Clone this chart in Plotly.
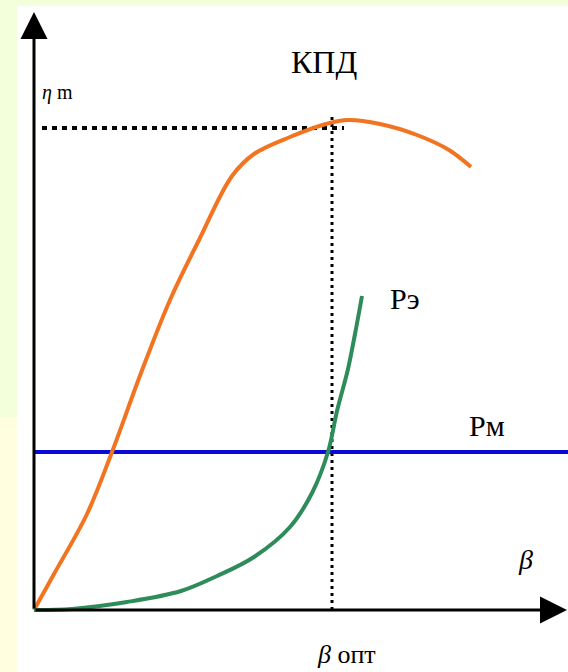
import plotly.graph_objects as go

# efficiency curve (КПД), arbitrary units
eta_x = [0, 2.0, 5.3, 7.8, 10.7, 13.6, 16.5, 19.8, 22.0, 25.6, 29.2, 31.4, 34.6, 38.3, 41.5, 43.7]
eta_y = [0, 3.6, 9.6, 15.8, 23.7, 31.0, 37.0, 43.4, 45.6, 47.3, 48.6, 49.0, 48.6, 47.5, 46.0, 44.3]

# electrical losses Pэ
pe_x = [0, 3.8, 9.3, 14.7, 18.3, 22.0, 25.6, 27.8, 29.4, 30.3, 31.4, 32.1, 32.8]
pe_y = [0, 0.1, 0.8, 1.9, 3.4, 5.3, 8.3, 11.7, 15.8, 19.9, 24.1, 27.6, 31.4]

# magnetic losses Pм (constant)
pm_x = [0, 53.4]
pm_y = [15.8, 15.8]

beta_opt = 29.8
eta_max = 48.2

X_RANGE = [-3.4, 53.4]
Y_RANGE = [-6.2, 61.0]

W, H = 568, 672
SERIF = "Liberation Serif, Times New Roman, serif"


def main():
    fig = go.Figure()

    # background panels (paper coords)
    green_bg = "#f3fedb"
    yellow_bg = "#ffffe0"
    fig.add_shape(type="rect", xref="paper", yref="paper", x0=0, x1=1, y0=0, y1=1,
                  fillcolor=green_bg, line_width=0, layer="below")
    fig.add_shape(type="rect", xref="paper", yref="paper", x0=0, x1=17 / W, y0=0, y1=1 - 418 / H,
                  fillcolor=yellow_bg, line_width=0, layer="below")
    fig.add_shape(type="rect", xref="paper", yref="paper", x0=17 / W, x1=1, y0=0, y1=1 - 6 / H,
                  fillcolor="white", line_width=0, layer="below")

    # guide lines to the optimum
    fig.add_trace(go.Scatter(x=[0.8, beta_opt + 1.2], y=[eta_max, eta_max], mode="lines",
                             line=dict(color="black", width=4, dash="5px,5px"), hoverinfo="skip"))
    fig.add_trace(go.Scatter(x=[beta_opt, beta_opt], y=[0, 49.4], mode="lines",
                             line=dict(color="black", width=3, dash="3px,4px"), hoverinfo="skip"))

    fig.add_trace(go.Scatter(x=pm_x, y=pm_y, mode="lines", line=dict(color="#0a0ad8", width=4)))
    fig.add_trace(go.Scatter(x=eta_x, y=eta_y, mode="lines", line_shape="spline",
                             line=dict(color="#f27320", width=4)))
    fig.add_trace(go.Scatter(x=pe_x, y=pe_y, mode="lines", line_shape="spline",
                             line=dict(color="#2e8b5a", width=4)))

    # axes with arrows
    for tip in [(0, 59.8), (53.3, 0)]:
        fig.add_annotation(x=tip[0], y=tip[1], ax=0, ay=0, axref="x", ayref="y",
                           showarrow=True, arrowhead=2, arrowsize=1.8, arrowwidth=3,
                           arrowcolor="black", text="")

    labels = [
        (29.0, 54.8, "КПД", 32, "black"),
        (2.3, 51.8, "<i>η</i> m", 20, "black"),
        (37.1, 31.2, "Pэ", 30, "black"),
        (45.3, 18.5, "Pм", 30, "black"),
        (49.1, 5.1, "<i>β</i>", 28, "black"),
        (31.2, -4.4, "<i>β</i> опт", 26, "black"),
    ]
    for x, y, txt, size, col in labels:
        fig.add_annotation(x=x, y=y, text=txt, showarrow=False,
                           font=dict(family=SERIF, size=size, color=col))

    fig.update_layout(
        width=W, height=H,
        margin=dict(l=0, r=0, t=0, b=0),
        paper_bgcolor=green_bg,
        plot_bgcolor="rgba(0,0,0,0)",
        showlegend=False,
        xaxis=dict(range=X_RANGE, visible=False, fixedrange=True),
        yaxis=dict(range=Y_RANGE, visible=False, fixedrange=True),
    )
    return fig


fig = main()
fig.write_html("out.html", config={"displayModeBar": False},
               post_script="document.body.style.margin='0';")
